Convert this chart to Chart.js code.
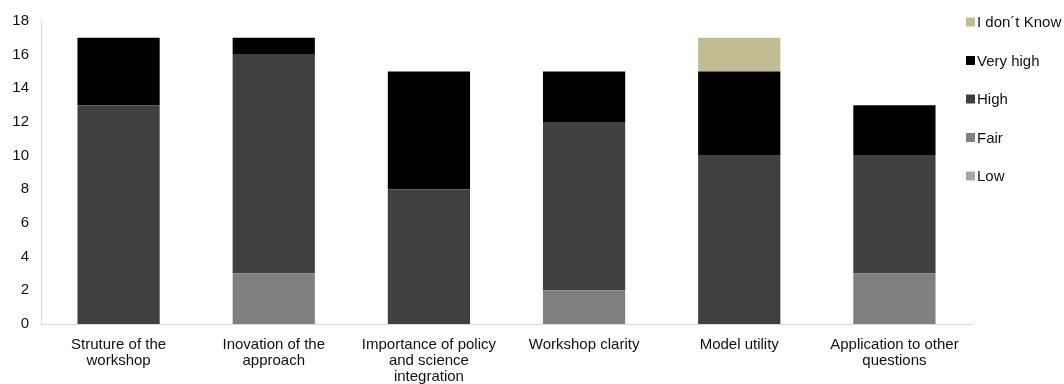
<!DOCTYPE html>
<html>
<head>
<meta charset="utf-8">
<script src="https://cdn.jsdelivr.net/npm/chart.js@4/dist/chart.umd.min.js"></script>
<style>
  body { margin: 0; background: #fff; }
  #wrap { width: 1064px; height: 384px; }
</style>
</head>
<body>
<div id="wrap"><canvas id="bars"></canvas></div>
<script>
const categories = [
  ["Struture of the", "workshop"],
  ["Inovation of the", "approach"],
  ["Importance of policy", "and science", "integration"],
  ["Workshop clarity"],
  ["Model utility"],
  ["Application to other", "questions"],
];
const low = [0, 0, 0, 0, 0, 0];
const fair = [0, 3, 0, 2, 0, 3];
const high = [13, 13, 8, 10, 10, 7];
const veryHigh = [4, 1, 7, 3, 5, 3];
const dontKnow = [0, 0, 0, 0, 2, 0];

Chart.defaults.font.family = "'Liberation Sans', Arial, sans-serif";
Chart.defaults.color = "#111";

// legend drawn by hand so the box sits right next to the text, like the original
const sideLegend = {
  id: "sideLegend",
  afterDraw(chart) {
    const c = chart.ctx;
    const sets = chart.data.datasets.slice().reverse();
    c.save();
    c.font = "15px 'Liberation Sans', Arial, sans-serif";
    c.textBaseline = "middle";
    sets.forEach((ds, i) => {
      const y = 22 + i * 38.5;
      c.fillStyle = ds.backgroundColor;
      c.fillRect(966, y - 4.5, 9, 9);
      c.fillStyle = "#111";
      c.fillText(ds.label, 977, y + 1);
    });
    c.restore();
  },
};

const ctx = document.getElementById("bars").getContext("2d");

new Chart(ctx, {
  type: "bar",
  data: {
    labels: categories,
    datasets: [
      { label: "Low", data: low, backgroundColor: "#a6a6a6" },
      { label: "Fair", data: fair, backgroundColor: "#808080" },
      { label: "High", data: high, backgroundColor: "#404040" },
      { label: "Very high", data: veryHigh, backgroundColor: "#000000" },
      { label: "I don\u00b4t Know", data: dontKnow, backgroundColor: "#c2bc92" },
    ],
  },
  options: {
    responsive: true,
    maintainAspectRatio: false,
    animation: false,
    layout: { padding: { top: 19, right: 92, left: 0, bottom: 0 } },
    datasets: { bar: { barPercentage: 0.53, categoryPercentage: 1 } },
    plugins: {
      tooltip: { enabled: false },
      legend: { display: false },
    },
    scales: {
      x: {
        stacked: true,
        grid: { display: false, drawTicks: false },
        border: { color: "#d9d9d9", width: 1 },
        ticks: { font: { size: 15, lineHeight: 1.07 }, maxRotation: 0, padding: 13 },
        afterFit: (scale) => { scale.height = 60; },
      },
      y: {
        stacked: true,
        min: 0,
        max: 18,
        grid: { display: false, drawTicks: false },
        border: { color: "#d9d9d9", width: 1 },
        ticks: { stepSize: 2, font: { size: 15 }, padding: 12 },
        afterFit: (scale) => { scale.width = 41; },
      },
    },
  },
  plugins: [sideLegend],
});
</script>
</body>
</html>
